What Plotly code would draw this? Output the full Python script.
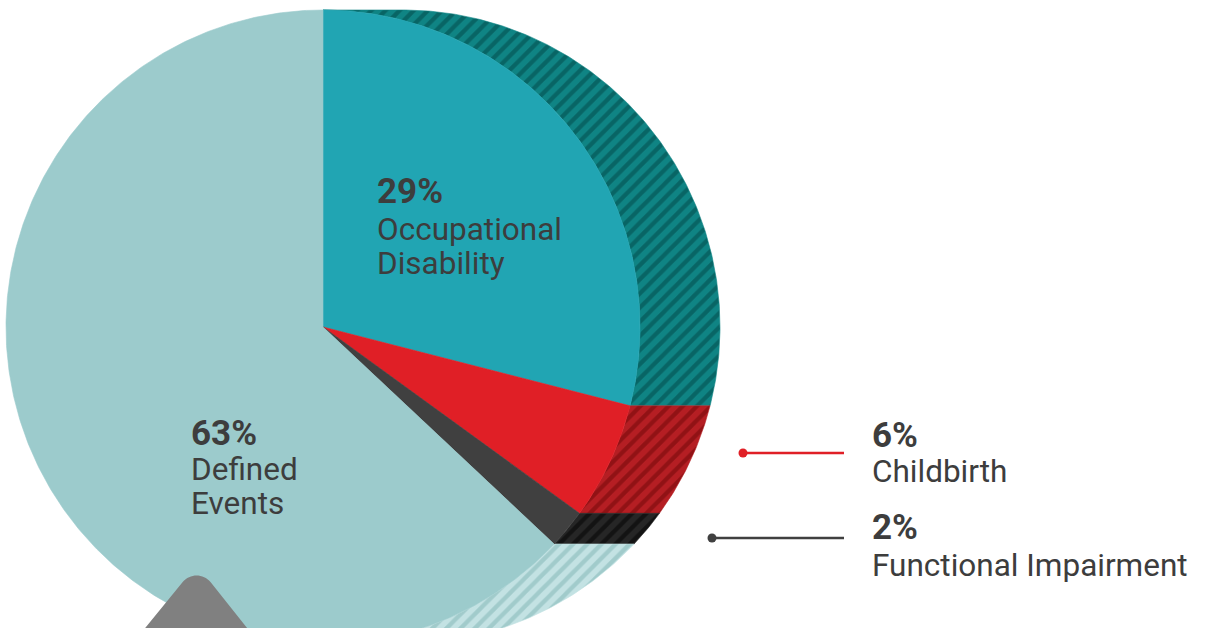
import numpy as np
import plotly.graph_objects as go

# ---------------- data ----------------
categories = ["Occupational Disability", "Childbirth", "Functional Impairment", "Defined Events"]
values = [29, 6, 2, 63]
label_lines = [["Occupational", "Disability"], ["Childbirth"], ["Functional Impairment"], ["Defined", "Events"]]

# ---------------- style ----------------
W, H = 1208, 628
CX, CY, R = 323, 327, 317
DEPTH = 80
front_colors = ["#21A5B3", "#E01F26", "#404040", "#9CCBCC"]
side_bg = ["#0F8484", "#B51E23", "#262626", "#C3E2E3"]
side_fg = ["#024545", "#6E0508", "#000000", "#7FB3B4"]
TEXT = "#3D3D3D"
FONT = "Roboto, sans-serif"

# label placement (pct line y, name lines y, x)
label_pos = {
    0: dict(x=375, ys=[191, 229, 263]),
    1: dict(x=870, ys=[435, 471]),
    2: dict(x=870, ys=[527, 565]),
    3: dict(x=189, ys=[433, 469, 503]),
}


def arc(a0, a1, dx=0.0):
    n = max(3, int(abs(a1 - a0) * 2))
    a = np.radians(np.linspace(a0, a1, n))
    return CX + dx + R * np.sin(a), CY - R * np.cos(a)


fig = go.Figure()
total = float(sum(values))
bounds = []
start = 0.0
for v in values:
    end = start + v / total * 360.0
    bounds.append((start, end))
    start = end

# extruded side (behind)
for i, (a0, a1) in enumerate(bounds):
    b0, b1 = max(a0, 0.0), min(a1, 180.0)
    if b1 <= b0:
        continue
    x1, y1 = arc(b0, b1)
    x2, y2 = arc(b0, b1, DEPTH)
    xs = list(x1) + list(x2[::-1]) + [x1[0]]
    ys = list(y1) + list(y2[::-1]) + [y1[0]]
    fig.add_trace(go.Scatter(
        x=xs, y=ys, mode="lines", fill="toself",
        line=dict(width=0.6, color=side_bg[i]),
        fillcolor=side_bg[i],
        fillpattern=dict(shape="/", bgcolor=side_bg[i], fgcolor=side_fg[i], size=10, solidity=0.42),
        hoverinfo="skip", showlegend=False,
    ))

# front face
for i, (a0, a1) in enumerate(bounds):
    ax, ay = arc(a0, a1)
    xs = [CX] + list(ax) + [CX]
    ys = [CY] + list(ay) + [CY]
    fig.add_trace(go.Scatter(
        x=xs, y=ys, mode="lines", fill="toself",
        line=dict(width=0.6, color=front_colors[i]),
        fillcolor=front_colors[i],
        name=categories[i], hoverinfo="name", showlegend=False,
    ))

# labels
annotations = []
for i, v in enumerate(values):
    p = label_pos[i]
    annotations.append(dict(
        x=p["x"], y=p["ys"][0], xref="x", yref="y", text=f"<b>{v}%</b>",
        showarrow=False, xanchor="left", yanchor="middle",
        font=dict(family=FONT, size=35, color=TEXT),
    ))
    for j, line in enumerate(label_lines[i]):
        annotations.append(dict(
            x=p["x"], y=p["ys"][j + 1], xref="x", yref="y", text=line,
            showarrow=False, xanchor="left", yanchor="middle",
            font=dict(family=FONT, size=31.5, color=TEXT),
        ))

shapes = [
    # grey pointer
    dict(type="path", xref="x", yref="y", layer="above",
         path="M 119,660 L 182.7,582.1 C 189.9,573.2 203.3,573.2 210.5,582.1 L 272.6,660 Z",
         fillcolor="#808080", line=dict(width=0)),
    # leader lines
    dict(type="line", xref="x", yref="y", x0=743, y0=453, x1=844, y1=453,
         line=dict(color="#E01F26", width=2.5)),
    dict(type="circle", xref="x", yref="y", x0=738.5, y0=448.5, x1=747.5, y1=457.5,
         fillcolor="#E01F26", line=dict(width=0)),
    dict(type="line", xref="x", yref="y", x0=712, y0=538, x1=844, y1=538,
         line=dict(color="#404040", width=2.5)),
    dict(type="circle", xref="x", yref="y", x0=707.5, y0=533.5, x1=716.5, y1=542.5,
         fillcolor="#404040", line=dict(width=0)),
]

fig.update_layout(
    width=W, height=H, margin=dict(l=0, r=0, t=0, b=0),
    paper_bgcolor="white", plot_bgcolor="white",
    xaxis=dict(range=[0, W], visible=False, fixedrange=True),
    yaxis=dict(range=[H, 0], visible=False, fixedrange=True),
    annotations=annotations, shapes=shapes, showlegend=False,
)

fig.write_html("out.html")
